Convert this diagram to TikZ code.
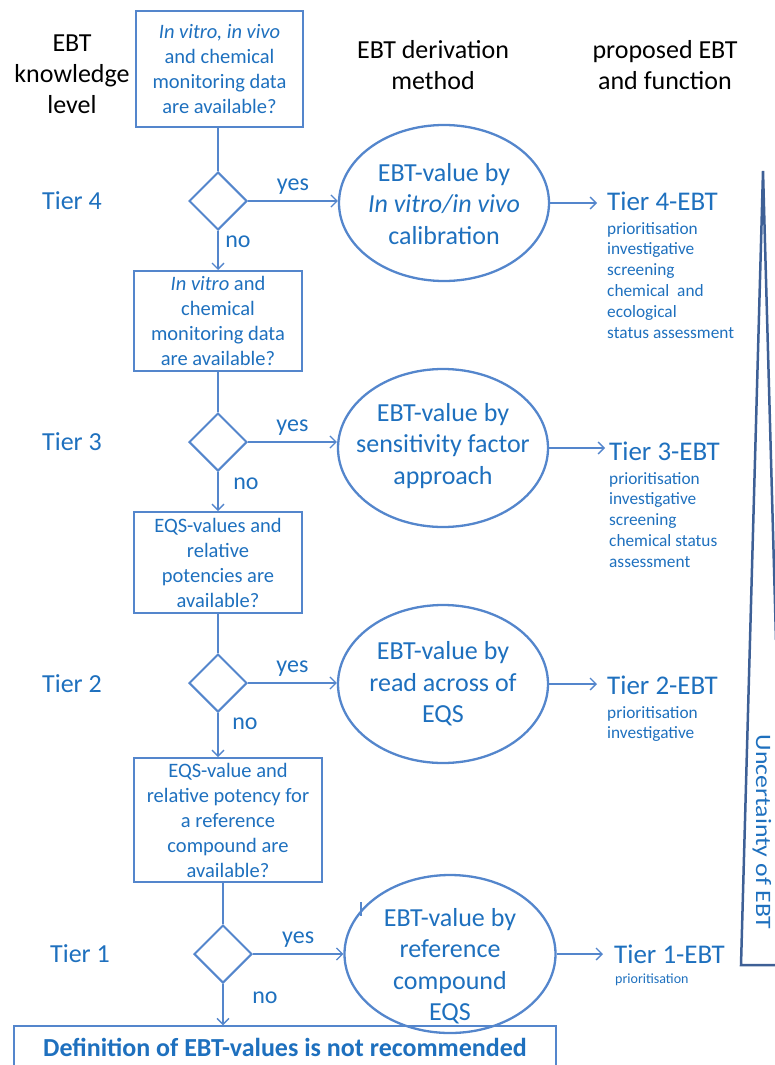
\documentclass[tikz,border=0pt]{standalone}
\usepackage{fontspec}
\setmainfont{Carlito}
\usetikzlibrary{shapes.geometric,arrows.meta}
\definecolor{tblue}{RGB}{30,112,190}
\definecolor{lblue}{RGB}{84,134,204}
\definecolor{dblue}{RGB}{62,96,150}
\begin{document}
\begin{tikzpicture}[x=1pt,y=-1pt,
  qbox/.style={draw=lblue, line width=2pt, text=tblue, font=\fontsize{20.5}{25}\selectfont, align=center, inner sep=0pt},
  dec/.style={draw=lblue, line width=2pt, diamond, aspect=1, minimum width=58pt, minimum height=58pt, inner sep=0pt},
  ell/.style={draw=lblue, line width=2.3pt, ellipse, inner sep=0pt},
  etext/.style={text=tblue, font=\fontsize{26}{31.5}\selectfont, align=center, inner sep=0pt},
  conn/.style={draw=lblue, line width=1.3pt},
  arr/.style={conn, -{Straight Barb[length=6pt,width=12pt]}},
  tier/.style={text=tblue, font=\fontsize{26}{31}\selectfont},
  yn/.style={text=tblue, font=\fontsize{24}{29}\selectfont},
  hdr/.style={text=black, font=\fontsize{26}{31}\selectfont, align=center},
  res/.style={text=tblue, font=\fontsize{27}{31}\selectfont, anchor=west, inner sep=0pt},
  sub/.style={text=tblue, font=\fontsize{17.3}{20.8}\selectfont, anchor=north west, align=left, inner sep=0pt}
]
\useasboundingbox (0,0) rectangle (774,1065);

% headers
\node[hdr] (h1) at (72,74) {EBT\\knowledge\\level};
\node[hdr] (h2) at (433,65) {EBT derivation\\method};
\node[hdr] (h3) at (665,65) {proposed EBT\\and function};

% question boxes
\node[qbox, minimum width=167pt, minimum height=116pt] (b1) at (219.5,69) {\textit{In vitro, in vivo}\\and chemical\\monitoring data\\are available?};
\node[qbox, minimum width=168pt, minimum height=100pt] (b2) at (218,321) {\textit{In vitro} and\\chemical\\monitoring data\\are available?};
\node[qbox, minimum width=168pt, minimum height=101pt] (b3) at (218,562.5) {EQS-values and\\relative\\potencies are\\available?};
\node[qbox, minimum width=188pt, minimum height=124pt] (b4) at (228,820) {EQS-value and\\relative potency for\\a reference\\compound are\\available?};

% diamonds
\node[dec] (d4) at (218,201) {};
\node[dec] (d3) at (218,442) {};
\node[dec] (d2) at (218,683) {};
\node[dec] (d1) at (223,954) {};

% tier labels
\node[tier] (l4) at (72,201) {Tier 4};
\node[tier] (l3) at (72,442) {Tier 3};
\node[tier] (l2) at (72,684) {Tier 2};
\node[tier] (l1) at (80,954) {Tier 1};

% ellipses
\node[ell, minimum width=210pt, minimum height=156pt] (e4) at (444,203) {};
\node[etext] (e4t) at (444,204) {EBT-value by\\\textit{In vitro/in vivo}\\calibration};
\node[ell, minimum width=210pt, minimum height=158pt] (e3) at (443,448) {};
\node[etext] (e3t) at (443,446) {EBT-value by\\sensitivity factor\\approach};
\node[ell, minimum width=210pt, minimum height=158pt] (e2) at (443,684) {};
\node[etext] (e2t) at (443,684) {EBT-value by\\read across of\\EQS};
\node[ell, minimum width=211pt, minimum height=158pt] (e1) at (450,954) {};
\node[etext] (e1t) at (450,966) {EBT-value by\\reference\\compound\\EQS};

% results
\node[res] (t4) at (607,201) {Tier 4-EBT};
\node[sub] (s4) at (607,222) {prioritisation\\investigative\\screening\\chemical\ \ and\\ecological\\status assessment};
\node[res] (t3) at (609,451) {Tier 3-EBT};
\node[sub] (s3) at (609,472) {prioritisation\\investigative\\screening\\chemical status\\assessment};
\node[res] (t2) at (607,685) {Tier 2-EBT};
\node[sub] (s2) at (607,706) {prioritisation\\investigative};
\node[res] (t1) at (614,954) {Tier 1-EBT};
\node[sub, font=\fontsize{14}{17}\selectfont] (s1) at (615,974) {prioritisation};

% final box
\node[draw=lblue, line width=1.5pt, minimum width=542pt, minimum height=70pt, inner sep=0pt] (b5) at (285,1061) {};
\node[text=tblue, font=\fontsize{26}{30}\bfseries\selectfont] (b5t) at (285,1047) {Definition of EBT-values is not recommended};

% connectors
\draw[conn] (d4.north |- b1.south) -- (d4.north);
\draw[arr] (d4.south) -- (b2.north);
\draw[conn] (b2.south) -- (d3.north);
\draw[arr] (d3.south) -- (b3.north);
\draw[conn] (b3.south) -- (d2.north);
\draw[arr] (d2.south) -- (d2.south |- b4.north);
\draw[conn] (d1.north |- b4.south) -- (d1.north);
\draw[arr] (d1.south) -- (d1.south |- b5.north);

\draw[arr] (d4.east) -- (e4.west |- d4.east) node[yn, midway, above=3pt] {yes};
\draw[arr] (d3.east) -- (e3.west |- d3.east) node[yn, midway, above=3pt] {yes};
\draw[arr] (d2.east) -- (e2.west |- d2.east) node[yn, midway, above=3pt] {yes};
\draw[arr] (d1.east) -- (e1.west) node[yn, midway, above=3pt] {yes};

\node[yn] at (238,242) {no};
\node[yn] at (246,484) {no};
\node[yn] at (245,724) {no};
\node[yn] at (265,998) {no};

\draw[arr] (e4.east) -- ([xshift=-10pt]t4.west |- e4.east);
\draw[arr] (e3.east) -- ([xshift=-4pt]t3.west |- e3.east);
\draw[arr] (e2.east) -- ([xshift=-10pt]t2.west |- e2.east);
\draw[arr] (e1.east) -- ([xshift=-11pt]t1.west |- e1.east);

% stray stub
\coordinate (st1) at (361,902);
\coordinate (st2) at (361,916);
\draw[conn] (st1) -- (st2);

% uncertainty wedge
\coordinate (apex) at (763,171);
\coordinate (bl) at (741,965);
\coordinate (br) at (790,965);
\coordinate (rr) at (776,640);
\draw[draw=dblue, line width=2.5pt, line join=miter] (rr) -- (apex) -- (bl) -- (br);
\node[text=tblue, font=\fontsize{22}{26}\selectfont, rotate=-90, inner sep=0pt] (unc) at (762,832) {\scalebox{1.17}[1]{Uncertainty of EBT}};
\end{tikzpicture}
\end{document}
